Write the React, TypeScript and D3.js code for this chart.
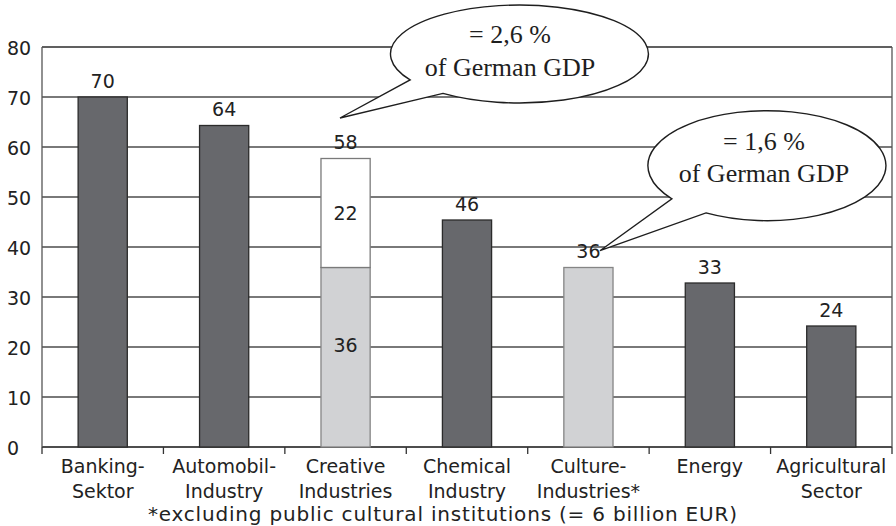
import React from "react";
import * as d3 from "d3";

const categories: string[][] = [
  ["Banking-", "Sektor"],
  ["Automobil-", "Industry"],
  ["Creative", "Industries"],
  ["Chemical", "Industry"],
  ["Culture-", "Industries*"],
  ["Energy"],
  ["Agricultural", "Sector"],
];
const baseValues = [70, 64.3, 35.9, 45.4, 35.9, 32.8, 24.2];
const extraValues = [0, 0, 21.8, 0, 0, 0, 0];
const totalLabels = ["70", "64", "58", "46", "36", "33", "24"];
const baseKinds = ["dark", "dark", "light", "dark", "light", "dark", "dark"];
const baseSegmentLabels = ["", "", "36", "", "", "", ""];
const extraSegmentLabels = ["", "", "22", "", "", "", ""];
const yTicks = [0, 10, 20, 30, 40, 50, 60, 70, 80];
const footnote = "*excluding public cultural institutions (= 6 billion EUR)";

// annotation bubbles, in data units (category index, value)
const bubbleLines = [
  ["= 2,6 %", "of German GDP"],
  ["= 1,6 %", "of German GDP"],
];
const bubbleCenterIdx = [3.432, 5.47];
const bubbleCenterVal = [78.6, 56.26];
const bubbleRadiusIdx = [1.062, 0.98];
const bubbleRadiusVal = [9.8, 11];
const bubbleTipIdx = [1.954, 4.095];
const bubbleTipVal = [65.8, 39.26];

const W = 896;
const H = 526;
const left = 42;
const right = 892;
const top = 47;
const bottom = 447;

const SANS = "'DejaVu Sans', sans-serif";
const SERIF = "'Liberation Serif', 'Times New Roman', serif";

export default function App() {
  const idx = categories.map((_, i) => i);
  const x = d3.scaleBand<number>().domain(idx).range([left, right]).padding(0);
  const bw = x.bandwidth();
  const xi = d3.scaleLinear().domain([-0.5, categories.length - 0.5]).range([left, right]);
  const y = d3.scaleLinear().domain([0, 80]).range([bottom, top]);
  const barW = bw * 0.405;
  const pxPerVal = (bottom - top) / 80;

  const textColor = "#222";
  const fills: Record<string, string> = { dark: "#67686c", light: "#d1d2d4" };
  const strokes: Record<string, string> = { dark: "#2b2b2b", light: "#858585" };

  const bubbles = bubbleLines.map((lines, k) => {
    const cx = xi(bubbleCenterIdx[k]);
    const cy = y(bubbleCenterVal[k]);
    const rx = bubbleRadiusIdx[k] * bw;
    const ry = bubbleRadiusVal[k] * pxPerVal;
    const tx = xi(bubbleTipIdx[k]);
    const ty = y(bubbleTipVal[k]);
    const a1 = (k === 0 ? 148 : 143) * Math.PI / 180;
    const a2 = (k === 0 ? 126.4 : 120.8) * Math.PI / 180;
    const p1 = [cx + rx * Math.cos(a1), cy + ry * Math.sin(a1)];
    const p2 = [cx + rx * Math.cos(a2), cy + ry * Math.sin(a2)];
    const path = `M${tx},${ty}L${p1[0]},${p1[1]}A${rx},${ry} 0 1 1 ${p2[0]},${p2[1]}Z`;
    const textDx = k === 0 ? -9.5 : -3;
    const textDy = k === 0 ? [-10.7, 22] : [-15.7, 16];
    return { path, cx, cy, lines, textDx, textDy };
  });

  return (
    <svg
      width={W}
      height={H}
      style={{ position: "absolute", left: 0, top: 0, background: "#fff" }}
    >
      <rect x={0} y={0} width={W} height={H} fill="#fff" />
      {/* gridlines */}
      {yTicks.map((t) => (
        <line
          key={"g" + t}
          x1={left}
          x2={right}
          y1={y(t)}
          y2={y(t)}
          stroke={t === 80 ? "#2b2b2b" : "#4d4d4d"}
          strokeWidth={t === 0 ? 2 : 1.3}
        />
      ))}
      {/* frame verticals */}
      <line x1={left} x2={left} y1={top} y2={bottom} stroke="#555" strokeWidth={1.3} />
      <line x1={right} x2={right} y1={top} y2={bottom} stroke="#555" strokeWidth={1.3} />
      {/* y tick labels */}
      {yTicks.map((t) => (
        <text
          key={"yl" + t}
          x={7}
          y={y(t) + 7.5}
          fontFamily={SANS}
          fontSize={19}
          fill={textColor}
        >
          {t}
        </text>
      ))}
      {/* x ticks */}
      {d3.range(categories.length + 1).map((i) => {
        const xx = left + i * bw;
        return (
          <line key={"xt" + i} x1={xx} x2={xx} y1={bottom} y2={bottom + 7} stroke="#333" strokeWidth={1.3} />
        );
      })}
      {/* bars */}
      {idx.map((i) => {
        const cx = (x(i) as number) + bw / 2;
        const x0 = cx - barW / 2;
        const kind = baseKinds[i];
        const baseTop = y(baseValues[i]);
        const totalTop = y(baseValues[i] + extraValues[i]);
        return (
          <g key={"b" + i}>
            <rect
              x={x0}
              y={baseTop}
              width={barW}
              height={bottom - baseTop}
              fill={fills[kind]}
              stroke={strokes[kind]}
              strokeWidth={1.3}
            />
            {extraValues[i] > 0 && (
              <rect
                x={x0}
                y={totalTop}
                width={barW}
                height={baseTop - totalTop}
                fill="#fff"
                stroke="#7a7a7a"
                strokeWidth={1.3}
              />
            )}
            <text
              x={cx}
              y={totalTop - 9.5}
              textAnchor="middle"
              fontFamily={SANS}
              fontSize={19}
              fill={textColor}
            >
              {totalLabels[i]}
            </text>
            {baseSegmentLabels[i] && (
              <text
                x={cx}
                y={(baseTop + bottom) / 2 - 12 + 7}
                textAnchor="middle"
                fontFamily={SANS}
                fontSize={19}
                fill={textColor}
              >
                {baseSegmentLabels[i]}
              </text>
            )}
            {extraSegmentLabels[i] && (
              <text
                x={cx}
                y={(baseTop + totalTop) / 2 + 7}
                textAnchor="middle"
                fontFamily={SANS}
                fontSize={19}
                fill={textColor}
              >
                {extraSegmentLabels[i]}
              </text>
            )}
          </g>
        );
      })}
      {/* category labels */}
      {idx.map((i) => {
        const cx = (x(i) as number) + bw / 2;
        return (
          <text key={"cl" + i} textAnchor="middle" fontFamily={SANS} fontSize={19} fill={textColor}>
            {categories[i].map((line, j) => (
              <tspan key={j} x={cx} y={bottom + 26 + j * 25}>
                {line}
              </tspan>
            ))}
          </text>
        );
      })}
      <text
        x={148}
        y={bottom + 74}
        fontFamily={SANS}
        fontSize={20}
        fill={textColor}
        textLength={589}
        lengthAdjust="spacing"
      >
        {footnote}
      </text>
      {/* bubbles */}
      {bubbles.map((b, k) => (
        <g key={"bub" + k}>
          <path d={b.path} fill="#fff" stroke="#1e1e1e" strokeWidth={1.4} strokeLinejoin="miter" />
          {b.lines.map((line, j) => (
            <text
              key={j}
              x={b.cx + b.textDx}
              y={b.cy + b.textDy[j]}
              textAnchor="middle"
              fontFamily={SERIF}
              fontSize={26}
              fill="#1e1e1e"
            >
              {line}
            </text>
          ))}
        </g>
      ))}
    </svg>
  );
}
